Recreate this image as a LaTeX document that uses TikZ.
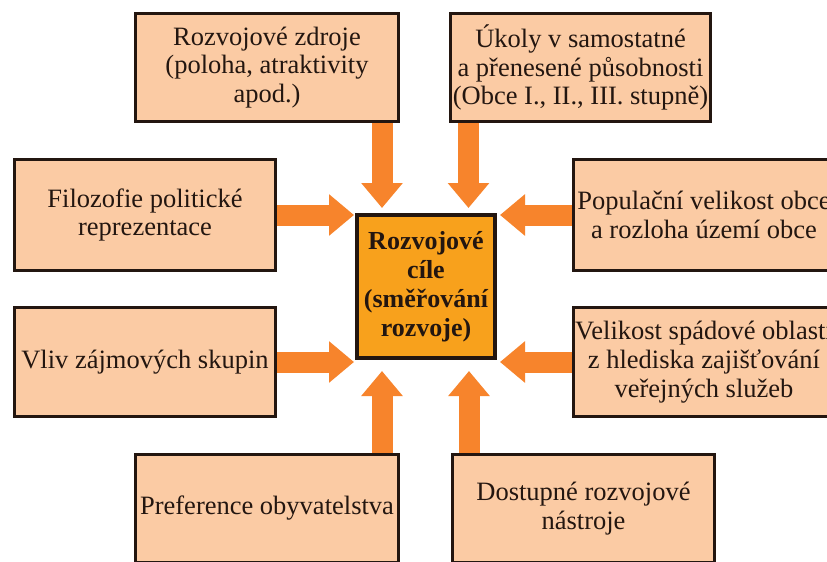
\documentclass[tikz,border=0pt]{standalone}
\usepackage{fontspec}
\setmainfont{Liberation Serif}
\usetikzlibrary{arrows.meta}
\definecolor{peach}{HTML}{FBCBA4}
\definecolor{ctrfill}{HTML}{F8A11C}
\definecolor{arr}{HTML}{F7842C}
\definecolor{edge}{HTML}{231610}
\begin{document}
\begin{tikzpicture}[x=1pt,y=-1pt,
  box/.style={draw=edge, line width=3pt, fill=peach, inner sep=0pt, align=center,
    font=\fontsize{26.5}{28.8}\selectfont, text=edge},
  ctrbox/.style={draw=edge, line width=4pt, fill=ctrfill, inner sep=0pt, align=center,
    font=\fontsize{26}{29}\selectfont\bfseries, text=edge},
  blk/.style={draw=arr, line width=21pt, line cap=butt, -{Triangle[width=40pt,length=25pt]}}]
\useasboundingbox (0,0) rectangle (827,562);
\fill[white] (0,0) rectangle (827,562);
\clip (0,0) rectangle (827,562);

\node[box, minimum width=263pt, minimum height=108pt] (A) at (267,67.5)
  {Rozvojové zdroje\\(poloha, atraktivity\\apod.)};
\node[box, minimum width=260pt, minimum height=108pt] (B) at (580.5,67.5)
  {Úkoly v samostatné\\a přenesené působnosti\\(Obce I., II., III. stupně)};
\node[box, minimum width=261pt, minimum height=111pt] (C) at (145,215)
  {Filozofie politické\\reprezentace};
\node[box, minimum width=261pt, minimum height=111pt] (D) at (704,215)
  {Populační velikost obce\\a rozloha území obce};
\node[box, minimum width=261pt, minimum height=109pt] (E) at (145,362)
  {Vliv zájmových skupin};
\node[box, minimum width=261pt, minimum height=109pt] (F) at (704,362)
  {Velikost spádové oblasti\\z hlediska zajišťování\\veřejných služeb};
\node[box, minimum width=263pt, minimum height=108pt] (G) at (267,508.5)
  {Preference obyvatelstva};
\node[box, minimum width=262pt, minimum height=108pt] (H) at (583.5,508.5)
  {Dostupné rozvojové\\nástroje};
\node[ctrbox, minimum width=138pt, minimum height=143pt] (K) at (426,286.5)
  {Rozvojové\\cíle\\(směřování\\rozvoje)};

\draw[blk] ([xshift=115pt]A.south) -- ([xshift=-44pt,yshift=5pt]K.north);
\draw[blk] ([xshift=-112pt]B.south) -- ([xshift=42.5pt,yshift=5pt]K.north);
\draw[blk] (C.east) -- ([xshift=-1pt,yshift=71.5pt]K.west);
\draw[blk] (D.west) -- ([xshift=3pt,yshift=71.5pt]K.east);
\draw[blk] (E.east) -- ([xshift=-1pt,yshift=-75.5pt]K.west);
\draw[blk] (F.west) -- ([xshift=3pt,yshift=-75.5pt]K.east);
\draw[blk] ([xshift=115pt]G.north) -- ([xshift=-44pt,yshift=-11pt]K.south);
\draw[blk] ([xshift=-114.5pt]H.north) -- ([xshift=43pt,yshift=-11pt]K.south);
\end{tikzpicture}
\end{document}
